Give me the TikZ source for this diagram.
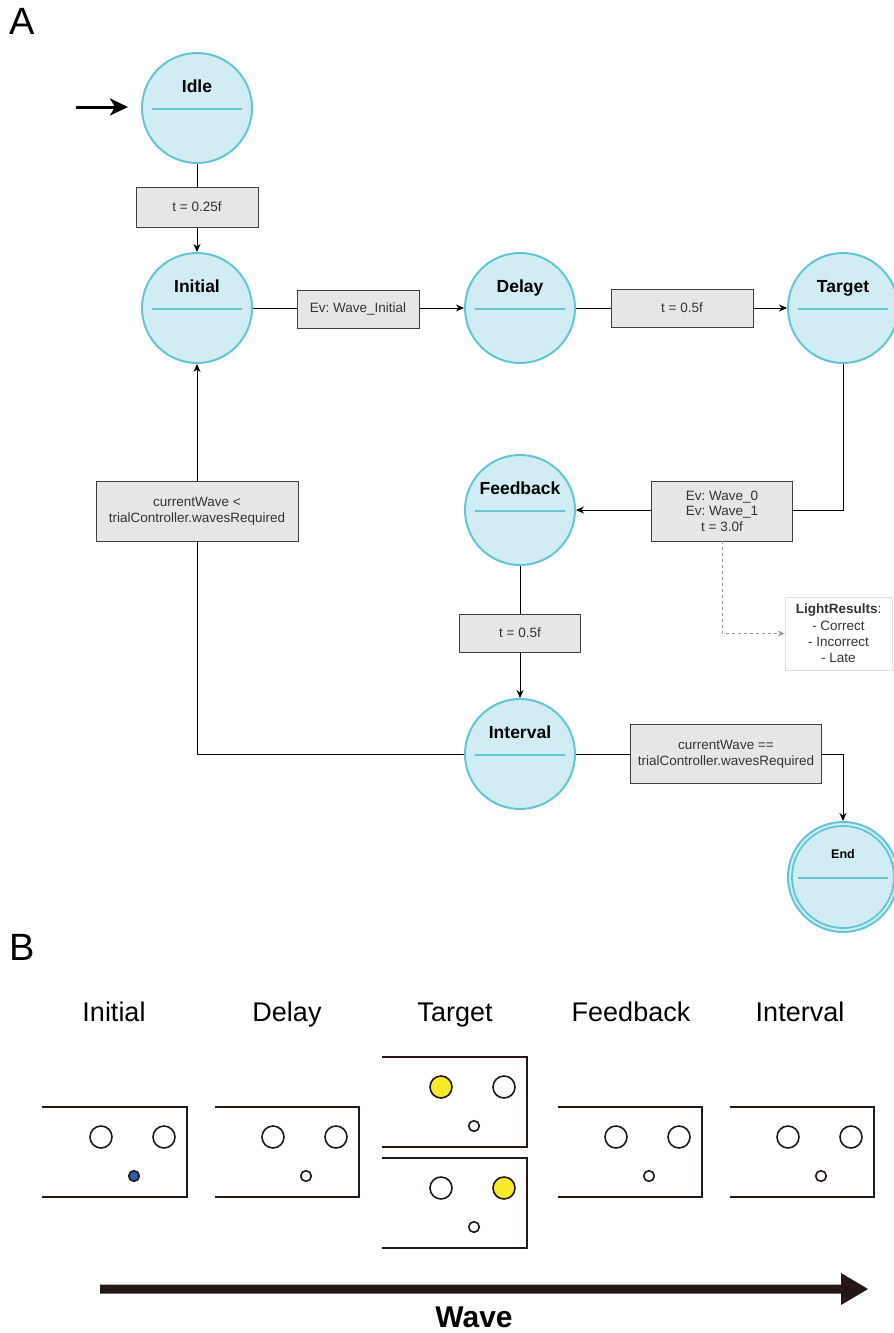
\documentclass[tikz,border=0pt]{standalone}
\usepackage{fontspec}
\setmainfont{Liberation Sans}
\usetikzlibrary{arrows.meta}
\frenchspacing

\definecolor{statefill}{HTML}{D2ECF4}
\definecolor{statedraw}{HTML}{62C6D4}
\definecolor{boxfill}{HTML}{E6E6E6}
\definecolor{boxdraw}{HTML}{404040}
\definecolor{boxtext}{HTML}{333333}
\definecolor{ink}{HTML}{231815}
\definecolor{lampyellow}{HTML}{F6EA2B}
\definecolor{cueblue}{HTML}{2E5FAE}

% state circle with a bold title and a divider line
\newcommand\mkstate[5]{%
  \node[state] (#1) at (#2,#3) {};
  \node[stitle, anchor=base, font=\fontsize{#5}{#5}\selectfont\bfseries] (#1-title) at (#2,#3-16) {#4};
  \draw[sline] (#2-45,#3+1) -- (#2+45,#3+1);
}

% one screen of the trial timeline: open on the left
\newcommand\screen[6]{%
  \draw[scr] (#1,#3) -- (#2,#3) -- (#2,#3+90) -- (#1,#3+90);
  \draw[lamp, fill=#4] (#2-86,#3+30) circle (11);
  \draw[lamp, fill=#5] (#2-23,#3+30) circle (11);
  \draw[lamp, fill=#6] (#2-53,#3+69) circle (5.3);
}

\begin{document}
\begin{tikzpicture}[x=1pt, y=-1pt,
  state/.style={circle, draw=statedraw, fill=statefill, line width=2pt,
    minimum size=110pt, inner sep=0pt},
  stitle/.style={inner sep=0pt, text=black},
  sline/.style={draw=statedraw, line width=2pt},
  lbl/.style={draw=boxdraw, fill=boxfill, line width=0.9pt, text=boxtext,
    align=center, inner sep=2pt,
    font=\fontsize{13.5}{15.5}\selectfont},
  edge/.style={draw=black, line width=1pt, -{Stealth[length=8pt, width=7pt]}},
  dashedge/.style={draw=gray!80, line width=0.9pt, dash pattern=on 3pt off 3pt,
    -{Stealth[length=7pt, width=6pt]}},
  scr/.style={draw=ink, line width=2pt},
  lamp/.style={draw=ink, line width=1.6pt},
  phase/.style={font=\fontsize{27}{27}\selectfont, text=black, anchor=base, inner sep=0pt},
  panel/.style={font=\fontsize{38}{38}\selectfont, text=black, inner sep=0pt}
]
\useasboundingbox (0,0) rectangle (894,1333);

% panel letters
\node[panel] (pA) at (22,21) {A};
\node[panel] (pB) at (22,947) {B};

% states
\mkstate{idle}{197}{108}{Idle}{17.5}
\mkstate{initial}{197}{308}{Initial}{17.5}
\mkstate{delay}{520}{308}{Delay}{17.5}
\mkstate{target}{843}{308}{Target}{17.5}
\mkstate{feedback}{520}{510}{Feedback}{17.5}
\mkstate{interval}{520}{754}{Interval}{17.5}

% final state: double ring
\node[state] (end) at (843,877) {};
\draw[draw=statedraw, line width=1.8pt] (end.center) circle (51);
\node[stitle, anchor=base, font=\fontsize{12.5}{12.5}\selectfont\bfseries] (end-title) at (843,858) {End};
\draw[sline] (798,878) -- (888,878);

% entry arrow
\coordinate (entry) at (76,107);
\coordinate (entrytip) at (128,107);
\draw[line width=3pt, -{Stealth[length=18pt, width=17pt, inset=5pt]}] (entry) -- (entrytip);

% transitions
\draw[edge] (idle) -- (initial);
\draw[edge] (initial) -- (delay);
\draw[edge] (delay) -- (target);
\draw[edge] (target.south) |- (feedback.east);
\draw[edge] (feedback) -- (interval);
\draw[edge] (interval.west) -| (initial.south);
\draw[edge] (interval.east) -| (end.north);

% transition labels
\node[lbl, minimum width=122pt, minimum height=40pt] (l-idle) at (197,207) {t = 0.25f};
\node[lbl, minimum width=122pt, minimum height=38pt] (l-init) at (358,309) {Ev: Wave\_Initial};
\node[lbl, minimum width=142pt, minimum height=38pt] (l-delay) at (682,308) {t = 0.5f};
\node[lbl, minimum width=141pt, minimum height=60pt] (l-target) at (722,511) {Ev: Wave\_0\\Ev: Wave\_1\\t = 3.0f};
\node[lbl, minimum width=121pt, minimum height=38pt] (l-feed) at (520,633) {t = 0.5f};
\node[lbl, minimum width=202pt, minimum height=60pt] (l-loop) at (197,511) {currentWave {<}\\trialController.wavesRequired};
\node[lbl, minimum width=191pt, minimum height=59pt] (l-end) at (726,754) {currentWave ==\\trialController.wavesRequired};

% note on the result of a target
\node[draw=black!12, fill=white, line width=0.8pt, minimum width=107pt, minimum height=73pt,
  align=center, inner sep=2pt, font=\fontsize{13.5}{16.3}\selectfont, text=boxtext]
  (light) at (838.5,633.5) {\textbf{LightResults}:\\- Correct\\- Incorrect\\- Late};
\draw[dashedge] (l-target.south) |- (light.west);

% panel B: phase titles
\node[phase] (ph1) at (114,1021) {Initial};
\node[phase] (ph2) at (287,1021) {Delay};
\node[phase] (ph3) at (455,1021) {Target};
\node[phase] (ph4) at (631,1021) {Feedback};
\node[phase] (ph5) at (800,1021) {Interval};

% panel B: screens
\screen{42}{187}{1107}{white}{white}{cueblue}
\screen{215}{359}{1107}{white}{white}{white}
\screen{382}{527}{1057}{lampyellow}{white}{white}
\screen{382}{527}{1158}{white}{lampyellow}{white}
\screen{558}{702}{1107}{white}{white}{white}
\screen{730}{874}{1107}{white}{white}{white}

% time axis
\fill[ink] (100,1284.5) -- (841,1284.5) -- (841,1273) -- (868,1289) -- (841,1305)
  -- (841,1293.5) -- (100,1293.5) -- cycle;
\node[font=\fontsize{30}{30}\selectfont\bfseries, text=black] (wave) at (474,1317) {Wave};
\end{tikzpicture}
\end{document}
